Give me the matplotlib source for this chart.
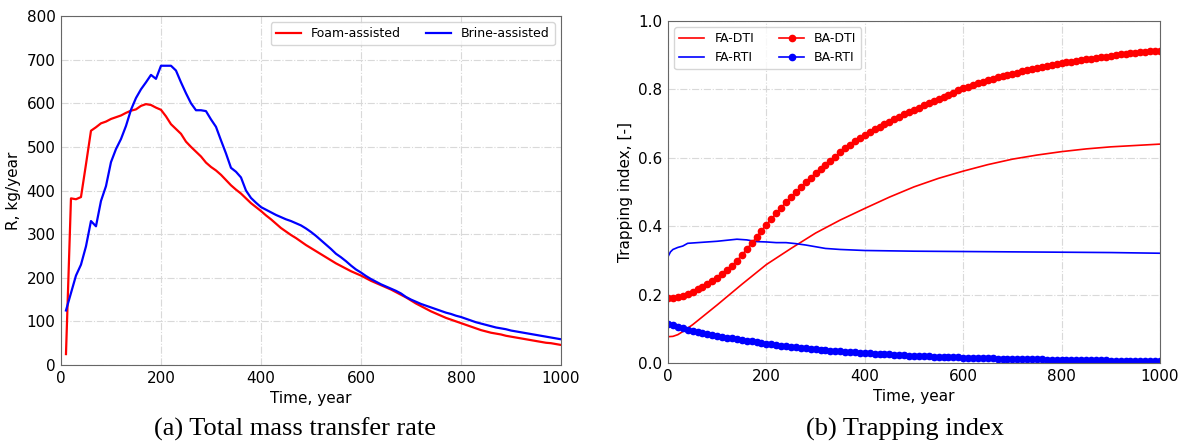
import matplotlib.pyplot as plt

# ---- (a) total mass transfer rate, kg/year ----
t_rate = list(range(10, 1001, 10))
foam_rate = [25, 382, 380, 385, 460, 537, 545, 554, 558, 564,
             568, 572, 578, 583, 586, 594, 598, 596, 590, 585,
             570, 552, 541, 530, 512, 500, 489, 478, 464, 454,
             446, 436, 424, 412, 402, 393, 382, 371, 362, 353,
             343, 334, 324, 314, 306, 298, 291, 283, 275, 268,
             261, 254, 247, 240, 233, 227, 221, 215, 210, 205,
             199, 193, 188, 183, 178, 173, 167, 161, 155, 148,
             141, 135, 129, 123, 118, 113, 108, 104, 100, 96,
             92, 88, 84, 80, 77, 74, 72, 70, 67, 65,
             63, 61, 59, 57, 55, 53, 51, 50, 48, 46]
brine_rate = [125, 165, 205, 230, 272, 330, 318, 376, 410, 465,
              495, 518, 548, 585, 612, 632, 648, 665, 656, 686,
              686, 686, 675, 648, 623, 600, 584, 584, 582, 563,
              546, 515, 485, 452, 443, 430, 400, 383, 372, 362,
              356, 350, 344, 339, 334, 330, 325, 320, 313, 305,
              296, 286, 276, 266, 255, 247, 238, 228, 219, 212,
              204, 197, 191, 185, 180, 175, 170, 164, 156, 150,
              145, 140, 136, 132, 128, 124, 120, 117, 113, 110,
              106, 102, 98, 95, 92, 89, 86, 84, 82, 79,
              77, 75, 73, 71, 69, 67, 65, 63, 61, 59]

# ---- (b) trapping index ----
t_idx = list(range(0, 1001, 10))
ba_dti = [0.189, 0.190, 0.193, 0.197, 0.202, 0.208, 0.215, 0.222, 0.230, 0.239,
          0.248, 0.259, 0.271, 0.284, 0.299, 0.315, 0.333, 0.350, 0.368, 0.387,
          0.405, 0.421, 0.438, 0.454, 0.470, 0.485, 0.500, 0.514, 0.528, 0.542,
          0.555, 0.568, 0.580, 0.592, 0.603, 0.617, 0.628, 0.638, 0.648, 0.657,
          0.666, 0.675, 0.683, 0.691, 0.699, 0.706, 0.713, 0.720, 0.727, 0.734,
          0.740, 0.747, 0.753, 0.760, 0.766, 0.772, 0.778, 0.784, 0.790, 0.797,
          0.803, 0.808, 0.813, 0.818, 0.823, 0.827, 0.831, 0.835, 0.839, 0.842,
          0.846, 0.849, 0.853, 0.856, 0.859, 0.862, 0.865, 0.868, 0.871, 0.874,
          0.876, 0.879, 0.881, 0.883, 0.886, 0.888, 0.890, 0.892, 0.894, 0.896,
          0.898, 0.900, 0.902, 0.904, 0.905, 0.907, 0.908, 0.910, 0.911, 0.912,
          0.913]
ba_rti = [0.114, 0.110, 0.106, 0.102, 0.098, 0.094, 0.091, 0.088, 0.085, 0.082,
          0.079, 0.077, 0.074, 0.072, 0.070, 0.067, 0.065, 0.063, 0.061, 0.059,
          0.057, 0.055, 0.053, 0.051, 0.050, 0.048, 0.046, 0.045, 0.043, 0.042,
          0.040, 0.039, 0.038, 0.036, 0.035, 0.034, 0.033, 0.032, 0.031, 0.030,
          0.029, 0.028, 0.027, 0.027, 0.026, 0.025, 0.024, 0.024, 0.023, 0.022,
          0.022, 0.021, 0.020, 0.020, 0.019, 0.019, 0.018, 0.018, 0.017, 0.017,
          0.016, 0.016, 0.015, 0.015, 0.015, 0.014, 0.014, 0.013, 0.013, 0.013,
          0.012, 0.012, 0.012, 0.011, 0.011, 0.011, 0.011, 0.010, 0.010, 0.010,
          0.010, 0.009, 0.009, 0.009, 0.009, 0.008, 0.008, 0.008, 0.008, 0.008,
          0.007, 0.007, 0.007, 0.007, 0.007, 0.007, 0.006, 0.006, 0.006, 0.006,
          0.006]

t_fa_dti = [0, 10, 20, 30, 50, 100, 150, 200, 250, 300, 350, 400, 450, 500,
            550, 600, 650, 700, 750, 800, 850, 900, 950, 1000]
fa_dti = [0.077, 0.078, 0.083, 0.092, 0.112, 0.170, 0.230, 0.288, 0.335, 0.380,
          0.418, 0.452, 0.485, 0.515, 0.540, 0.561, 0.580, 0.596, 0.608, 0.618,
          0.626, 0.632, 0.636, 0.640]

t_fa_rti = [0, 5, 10, 20, 30, 40, 60, 80, 100, 120, 140, 160, 180, 200, 220,
            240, 260, 280, 300, 320, 350, 400, 500, 600, 700, 800, 900, 1000]
fa_rti = [0.311, 0.325, 0.332, 0.338, 0.342, 0.350, 0.352, 0.354, 0.356, 0.359,
          0.362, 0.360, 0.355, 0.354, 0.352, 0.352, 0.349, 0.345, 0.340, 0.335,
          0.332, 0.329, 0.327, 0.326, 0.325, 0.324, 0.323, 0.321]


def style_axes(ax):
    ax.grid(True, linestyle='-.', color='#d9d9d9', linewidth=0.8)
    ax.set_axisbelow(True)
    for s in ax.spines.values():
        s.set_color('#666666')
    ax.tick_params(length=0, labelsize=11, pad=4)


fig = plt.figure(figsize=(11.84, 4.46), dpi=100)

ax1 = fig.add_axes([0.0515, 0.1816, 0.4223, 0.7825])
ax1.plot(t_rate, foam_rate, color='red', lw=1.6, label='Foam-assisted')
ax1.plot(t_rate, brine_rate, color='blue', lw=1.6, label='Brine-assisted')
ax1.set_xlim(0, 1000)
ax1.set_ylim(0, 800)
ax1.set_xlabel('Time, year', fontsize=11)
ax1.set_ylabel('R, kg/year', fontsize=11)
style_axes(ax1)
ax1.legend(loc='upper right', ncol=2, fontsize=9, columnspacing=2.0)

ax2 = fig.add_axes([0.5642, 0.186, 0.4155, 0.767])
ax2.plot(t_fa_dti, fa_dti, color='red', lw=1.2, label='FA-DTI')
ax2.plot(t_fa_rti, fa_rti, color='blue', lw=1.2, label='FA-RTI')
ax2.plot(t_idx, ba_dti, color='red', lw=1.2, marker='o', ms=4.5, label='BA-DTI')
ax2.plot(t_idx, ba_rti, color='blue', lw=1.2, marker='o', ms=4.5, label='BA-RTI')
ax2.set_xlim(0, 1000)
ax2.set_ylim(0, 1.0)
ax2.set_xlabel('Time, year', fontsize=11)
ax2.set_ylabel('Trapping index, [-]', fontsize=11)
style_axes(ax2)
ax2.legend(loc='upper left', ncol=2, fontsize=9, columnspacing=2.0)

fig.text(0.249, 0.038, '(a) Total mass transfer rate', ha='center', va='center',
         family='Liberation Serif', fontsize=19)
fig.text(0.764, 0.038, '(b) Trapping index', ha='center', va='center',
         family='Liberation Serif', fontsize=19)

fig.savefig('out.png', dpi=100)
